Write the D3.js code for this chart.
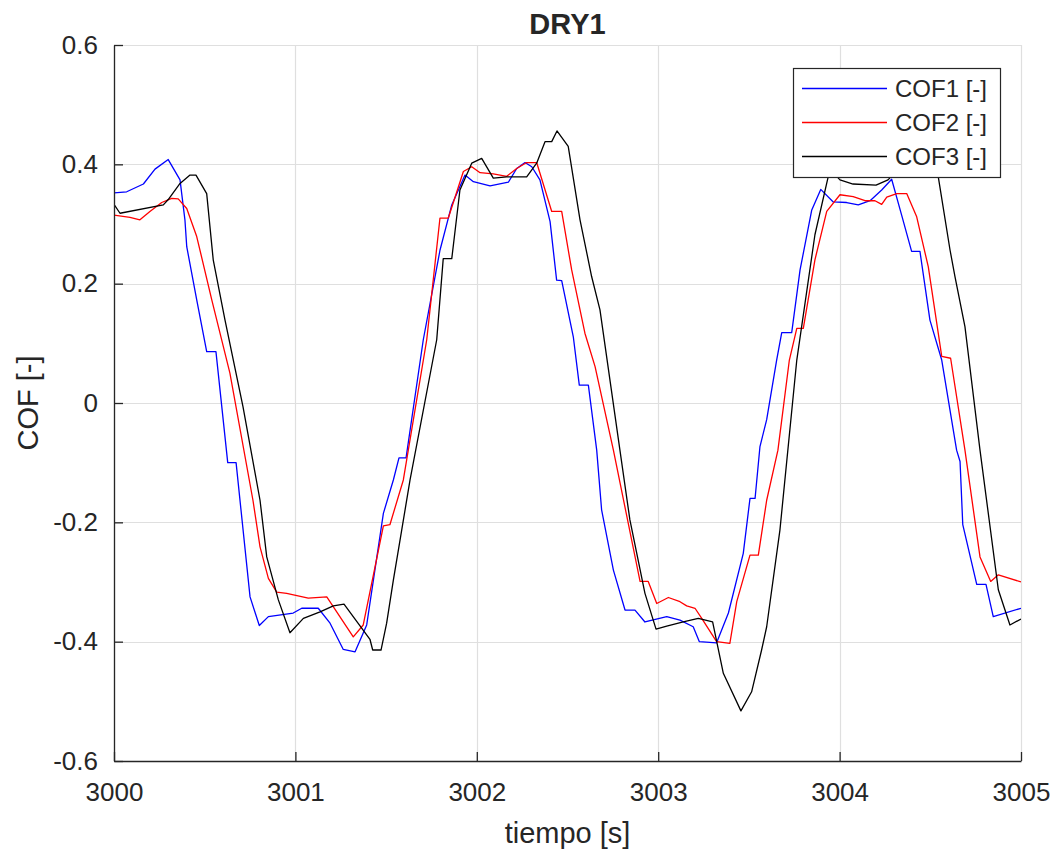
<!DOCTYPE html>
<html>
<head>
<meta charset="utf-8">
<script src="https://cdn.jsdelivr.net/npm/d3@7"></script>
<style>
  html, body { margin: 0; padding: 0; background: #ffffff; }
  svg { display: block; }
  text { font-family: "Liberation Sans", Arial, Helvetica, sans-serif; fill: #262626; }
</style>
</head>
<body>
<svg id="chart" width="1059" height="854"></svg>
<script>
// Friction coefficient traces, DRY1 run, 3000–3005 s
const seriesNames = ["COF1 [-]", "COF2 [-]", "COF3 [-]"];
const seriesColors = ["#0000ff", "#ff0000", "#000000"];

const cof1Time = [3000.000, 3000.070, 3000.162, 3000.226, 3000.299, 3000.364, 3000.391, 3000.401, 3000.456, 3000.511,
  3000.562, 3000.627, 3000.673, 3000.750, 3000.801, 3000.851, 3000.988, 3001.035, 3001.126, 3001.191,
  3001.264, 3001.329, 3001.393, 3001.485, 3001.540, 3001.571, 3001.610, 3001.705, 3001.797, 3001.862,
  3001.935, 3001.981, 3002.073, 3002.174, 3002.220, 3002.266, 3002.303, 3002.348, 3002.404, 3002.440,
  3002.468, 3002.532, 3002.565, 3002.615, 3002.661, 3002.688, 3002.753, 3002.817, 3002.872, 3002.927,
  3003.047, 3003.120, 3003.193, 3003.227, 3003.322, 3003.387, 3003.469, 3003.506, 3003.534, 3003.561,
  3003.598, 3003.653, 3003.681, 3003.736, 3003.782, 3003.846, 3003.896, 3003.965, 3004.039, 3004.103,
  3004.168, 3004.232, 3004.287, 3004.342, 3004.397, 3004.443, 3004.498, 3004.563, 3004.645, 3004.664,
  3004.679, 3004.756, 3004.807, 3004.847, 3005.000];
const cof1Value = [0.352, 0.354, 0.367, 0.392, 0.408, 0.374, 0.307, 0.262, 0.173, 0.086,
  0.086, -0.100, -0.100, -0.325, -0.373, -0.358, -0.352, -0.344, -0.344, -0.369,
  -0.413, -0.417, -0.372, -0.185, -0.129, -0.092, -0.092, 0.106, 0.256, 0.332,
  0.382, 0.371, 0.364, 0.370, 0.393, 0.403, 0.396, 0.374, 0.304, 0.206,
  0.205, 0.111, 0.030, 0.030, -0.079, -0.179, -0.280, -0.347, -0.347, -0.367,
  -0.358, -0.364, -0.375, -0.400, -0.402, -0.352, -0.252, -0.160, -0.160, -0.073,
  -0.028, 0.072, 0.118, 0.118, 0.223, 0.323, 0.358, 0.337, 0.336, 0.332,
  0.339, 0.357, 0.375, 0.315, 0.254, 0.254, 0.139, 0.072, -0.079, -0.098,
  -0.204, -0.304, -0.304, -0.358, -0.344];

const cof2Time = [3000.000, 3000.088, 3000.143, 3000.198, 3000.263, 3000.318, 3000.354, 3000.401, 3000.456, 3000.539,
  3000.639, 3000.766, 3000.805, 3000.851, 3000.897, 3000.952, 3001.071, 3001.173, 3001.319, 3001.374,
  3001.485, 3001.521, 3001.595, 3001.724, 3001.797, 3001.843, 3001.926, 3001.972, 3002.018, 3002.091,
  3002.165, 3002.220, 3002.275, 3002.330, 3002.413, 3002.468, 3002.523, 3002.596, 3002.652, 3002.753,
  3002.900, 3002.945, 3002.992, 3003.056, 3003.120, 3003.157, 3003.203, 3003.240, 3003.322, 3003.395,
  3003.433, 3003.506, 3003.552, 3003.598, 3003.660, 3003.723, 3003.764, 3003.800, 3003.864, 3003.929,
  3004.002, 3004.075, 3004.140, 3004.195, 3004.232, 3004.260, 3004.315, 3004.370, 3004.425, 3004.489,
  3004.563, 3004.612, 3004.691, 3004.774, 3004.833, 3004.875, 3005.000];
const cof2Value = [0.315, 0.311, 0.307, 0.321, 0.336, 0.343, 0.342, 0.326, 0.279, 0.173,
  0.050, -0.163, -0.241, -0.294, -0.317, -0.319, -0.327, -0.325, -0.392, -0.372,
  -0.206, -0.204, -0.129, 0.106, 0.310, 0.310, 0.388, 0.396, 0.386, 0.384,
  0.380, 0.393, 0.403, 0.403, 0.321, 0.321, 0.223, 0.117, 0.061, -0.079,
  -0.299, -0.299, -0.336, -0.326, -0.333, -0.340, -0.344, -0.361, -0.400, -0.403,
  -0.333, -0.255, -0.255, -0.163, -0.079, 0.072, 0.125, 0.125, 0.240, 0.321,
  0.349, 0.346, 0.339, 0.339, 0.333, 0.345, 0.351, 0.351, 0.312, 0.228,
  0.078, 0.075, -0.079, -0.258, -0.299, -0.288, -0.300];

const cof3Time = [3000.000, 3000.033, 3000.272, 3000.299, 3000.364, 3000.419, 3000.452, 3000.511, 3000.547, 3000.612,
  3000.711, 3000.805, 3000.842, 3000.906, 3000.970, 3001.044, 3001.136, 3001.209, 3001.268, 3001.411,
  3001.426, 3001.472, 3001.503, 3001.540, 3001.586, 3001.632, 3001.779, 3001.815, 3001.862, 3001.907,
  3001.972, 3002.027, 3002.091, 3002.165, 3002.275, 3002.330, 3002.376, 3002.413, 3002.442, 3002.504,
  3002.569, 3002.633, 3002.679, 3002.789, 3002.844, 3002.927, 3002.988, 3003.047, 3003.138, 3003.221,
  3003.300, 3003.359, 3003.456, 3003.515, 3003.570, 3003.598, 3003.671, 3003.764, 3003.864, 3003.937,
  3003.963, 3004.002, 3004.074, 3004.201, 3004.267, 3004.316, 3004.399, 3004.487, 3004.544, 3004.609,
  3004.636, 3004.691, 3004.774, 3004.875, 3004.939, 3005.000];
const cof3Value = [0.333, 0.318, 0.332, 0.341, 0.368, 0.382, 0.382, 0.351, 0.240, 0.139,
  -0.006, -0.163, -0.258, -0.330, -0.385, -0.361, -0.350, -0.340, -0.337, -0.396,
  -0.414, -0.414, -0.369, -0.297, -0.213, -0.129, 0.106, 0.242, 0.242, 0.357,
  0.402, 0.410, 0.377, 0.379, 0.379, 0.402, 0.438, 0.438, 0.456, 0.430,
  0.307, 0.212, 0.156, -0.079, -0.196, -0.319, -0.379, -0.374, -0.367, -0.361,
  -0.367, -0.453, -0.516, -0.484, -0.414, -0.375, -0.213, 0.072, 0.282, 0.379,
  0.387, 0.374, 0.367, 0.365, 0.374, 0.390, 0.399, 0.399, 0.379, 0.256,
  0.212, 0.128, -0.079, -0.313, -0.372, -0.362];

const xTicks = [3000, 3001, 3002, 3003, 3004, 3005];
const xTickLabels = ["3000", "3001", "3002", "3003", "3004", "3005"];
const yTicks = [-0.6, -0.4, -0.2, 0, 0.2, 0.4, 0.6];
const yTickLabels = ["-0.6", "-0.4", "-0.2", "0", "0.2", "0.4", "0.6"];

const titleText = "DRY1";
const xLabelText = "tiempo [s]";
const yLabelText = "COF [-]";

// ---- layout ----
const plot = { left: 114, right: 1021, top: 45, bottom: 761 };
const axisColor = "#262626";
const gridColor = "#dfdfdf";

const svg = d3.select("#chart");
svg.append("rect").attr("width", 1059).attr("height", 854).attr("fill", "#ffffff");

const x = d3.scaleLinear().domain([3000, 3005]).range([plot.left, plot.right]);
const y = d3.scaleLinear().domain([-0.6, 0.6]).range([plot.bottom, plot.top]);

// grid
const grid = svg.append("g").attr("class", "grid");
grid.selectAll("line.gx").data(xTicks).join("line")
  .attr("x1", d => Math.round(x(d)) + 0.5).attr("x2", d => Math.round(x(d)) + 0.5)
  .attr("y1", plot.top).attr("y2", plot.bottom)
  .attr("stroke", gridColor).attr("stroke-width", 1.2);
grid.selectAll("line.gy").data(yTicks).join("line")
  .attr("y1", d => Math.round(y(d)) + 0.5).attr("y2", d => Math.round(y(d)) + 0.5)
  .attr("x1", plot.left).attr("x2", plot.right)
  .attr("stroke", gridColor).attr("stroke-width", 1.2);

// data lines
svg.append("clipPath").attr("id", "plotClip")
  .append("rect").attr("x", plot.left).attr("y", plot.top)
  .attr("width", plot.right - plot.left).attr("height", plot.bottom - plot.top);

const series = [
  { name: seriesNames[0], color: seriesColors[0], pts: d3.zip(cof1Time, cof1Value) },
  { name: seriesNames[1], color: seriesColors[1], pts: d3.zip(cof2Time, cof2Value) },
  { name: seriesNames[2], color: seriesColors[2], pts: d3.zip(cof3Time, cof3Value) }
];

const line = d3.line().x(d => x(d[0])).y(d => y(d[1]));
svg.append("g").attr("clip-path", "url(#plotClip)")
  .selectAll("path").data(series).join("path")
  .attr("d", d => line(d.pts))
  .attr("fill", "none")
  .attr("stroke", d => d.color)
  .attr("stroke-width", 1.3)
  .attr("stroke-linejoin", "round");

// axes
const xAxis = d3.axisBottom(x).tickValues(xTicks)
  .tickFormat((d, i) => xTickLabels[i])
  .tickSizeInner(-9).tickSizeOuter(0).tickPadding(22);
const yAxis = d3.axisLeft(y).tickValues(yTicks)
  .tickFormat((d, i) => yTickLabels[i])
  .tickSizeInner(-9).tickSizeOuter(0).tickPadding(16);

const gx = svg.append("g").attr("transform", `translate(0,${plot.bottom})`).call(xAxis);
const gy = svg.append("g").attr("transform", `translate(${plot.left},0)`).call(yAxis);
[gx, gy].forEach(g => {
  g.select(".domain").attr("stroke", axisColor).attr("stroke-width", 1.3);
  g.selectAll(".tick line").attr("stroke", axisColor).attr("stroke-width", 1.3);
  g.selectAll(".tick text").attr("fill", axisColor)
    .style("font-family", '"Liberation Sans", Arial, Helvetica, sans-serif')
    .style("font-size", "26px");
});

// titles
svg.append("text").attr("x", (plot.left + plot.right) / 2).attr("y", 34)
  .attr("text-anchor", "middle").style("font-size", "29px").style("font-weight", "bold")
  .attr("fill", "#000000").text(titleText);
svg.append("text").attr("x", (plot.left + plot.right) / 2).attr("y", 843)
  .attr("text-anchor", "middle").style("font-size", "29px").text(xLabelText);
svg.append("text")
  .attr("transform", `translate(38,${(plot.top + plot.bottom) / 2}) rotate(-90)`)
  .attr("text-anchor", "middle").style("font-size", "29px").text(yLabelText);

// legend
const legend = { x: 793, y: 68, w: 207, h: 109, rowStart: 88.5, rowGap: 34 };
const lg = svg.append("g");
lg.append("rect").attr("x", legend.x + 0.5).attr("y", legend.y + 0.5)
  .attr("width", legend.w).attr("height", legend.h)
  .attr("fill", "#ffffff").attr("stroke", axisColor).attr("stroke-width", 1.2);
const rows = lg.selectAll("g.row").data(series).join("g")
  .attr("transform", (d, i) => `translate(0,${legend.rowStart + i * legend.rowGap})`);
rows.append("line").attr("x1", 802).attr("x2", 887).attr("y1", 0).attr("y2", 0)
  .attr("stroke", d => d.color).attr("stroke-width", 1.3);
rows.append("text").attr("x", 895).attr("y", 8.5)
  .style("font-size", "24px").attr("fill", "#000000").text(d => d.name);
</script>
</body>
</html>
